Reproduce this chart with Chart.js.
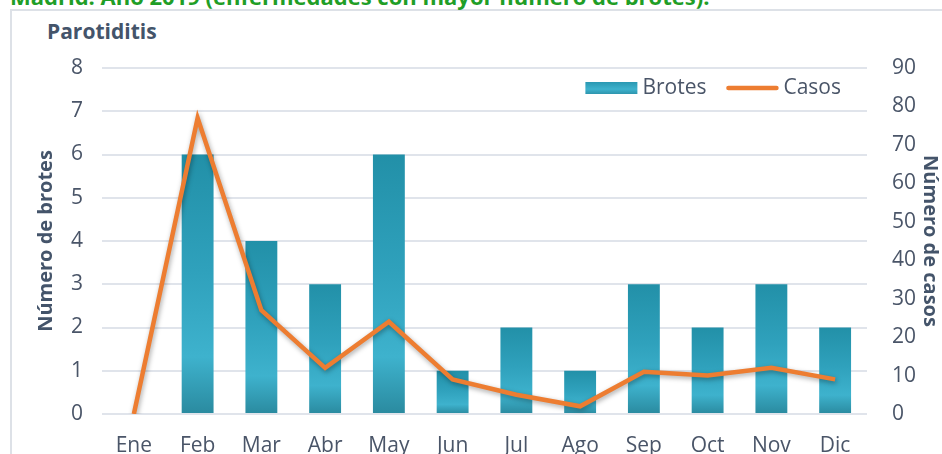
<!DOCTYPE html>
<html><head><meta charset="utf-8">
<script src="https://cdn.jsdelivr.net/npm/chart.js@4"></script>
<style>
html,body{margin:0;padding:0;background:#fff;overflow:hidden;width:942px;height:454px;}
#frame{position:absolute;left:10px;top:9px;width:1000px;height:1000px;border:2px solid #dde1e7;box-sizing:border-box;}
#top{position:absolute;left:10px;top:-15px;font:bold 22px/22px 'Open Sans';color:#1f9e27;white-space:nowrap;}
#sub{position:absolute;left:47px;top:21px;font:bold 21px/21px 'Open Sans';color:#44546a;white-space:nowrap;}
#wrap{position:absolute;left:0;top:0;width:942px;height:454px;}
</style></head>
<body>
<div id="frame"></div>
<div id="top">Madrid. Año 2019 (enfermedades con mayor número de brotes).</div>
<div id="sub">Parotiditis</div>
<div id="wrap"><canvas id="c" width="942" height="454"></canvas></div>
<script>
const categories = ['Ene','Feb','Mar','Abr','May','Jun','Jul','Ago','Sep','Oct','Nov','Dic'];
const brotes = [0,6,4,3,6,1,2,1,3,2,3,2];
const casos = [0,77,27,12,24,9,5,2,11,10,12,9];
const leftTicks = [0,1,2,3,4,5,6,7,8];
const rightTicks = [0,10,20,30,40,50,60,70,80,90];

const txt = '#4a5568';
const ttl = '#44546a';
const FONT = "'Open Sans'";
const BAR_SOLID = '#35a7c3';
const LINE_COLOR = '#ed7d31';

function barFill(c){
  const chart = c.chart;
  const ys = chart.scales && chart.scales.y;
  const v = brotes[c.dataIndex];
  if (!ys || !chart.chartArea || c.type !== 'data' || !v) return BAR_SOLID;
  const top = ys.getPixelForValue(v), base = ys.getPixelForValue(0);
  if (!isFinite(top) || !isFinite(base) || base - top < 1) return BAR_SOLID;
  const g = chart.ctx.createLinearGradient(0, top, 0, base);
  g.addColorStop(0, '#2290a8');
  g.addColorStop(0.45, '#2fa1bc');
  g.addColorStop(0.78, '#3eb2cd');
  g.addColorStop(1, '#2a8a9f');
  return g;
}

const shadowPlugin = {
  id: 'lineShadow',
  beforeDatasetDraw(chart, args){
    if (args.meta.type === 'line'){
      const ctx = chart.ctx; ctx.save();
      ctx.shadowColor = 'rgba(0,0,0,0.35)'; ctx.shadowBlur = 5; ctx.shadowOffsetX = 1; ctx.shadowOffsetY = 2;
    }
  },
  afterDatasetDraw(chart, args){
    if (args.meta.type === 'line') chart.ctx.restore();
  }
};

// legend drawn inside the plot area, top-right
const innerLegend = {
  id: 'innerLegend',
  afterDatasetsDraw(chart){
    const ctx = chart.ctx, area = chart.chartArea;
    const ds = chart.data.datasets;
    const barDs = ds.find(d => d.type === 'bar'), lineDs = ds.find(d => d.type === 'line');
    const items = [
      { label: barDs.label, kind: 'bar' },
      { label: lineDs.label, kind: 'line' }
    ];
    ctx.save();
    ctx.font = "21px " + FONT;
    ctx.textBaseline = 'middle';
    const sw = 52, gapText = 5, gapItem = 20;
    const cy = area.top + 20;
    let x = area.right - 26;
    for (let i = items.length - 1; i >= 0; i--){
      const it = items[i];
      const w = ctx.measureText(it.label).width;
      const tx = x - w;
      ctx.fillStyle = txt; ctx.textAlign = 'left';
      ctx.fillText(it.label, tx, cy);
      const sx = tx - gapText - sw;
      if (it.kind === 'bar'){
        const g = ctx.createLinearGradient(0, cy - 6, 0, cy + 6);
        g.addColorStop(0, '#2a98b2'); g.addColorStop(0.6, '#3eb2cd'); g.addColorStop(1, '#2d95ae');
        ctx.fillStyle = g;
        ctx.fillRect(sx, cy - 6, sw, 12);
      } else {
        ctx.strokeStyle = LINE_COLOR; ctx.lineWidth = 4.5; ctx.lineCap = 'round';
        ctx.beginPath(); ctx.moveTo(sx + 2, cy); ctx.lineTo(sx + sw - 2, cy); ctx.stroke();
      }
      x = sx - gapItem;
    }
    ctx.restore();
  }
};

new Chart(document.getElementById('c'), {
  data: {
    labels: categories,
    datasets: [
      { type: 'line', label: 'Casos', data: casos, yAxisID: 'y1', borderColor: LINE_COLOR, backgroundColor: LINE_COLOR,
        borderWidth: 4.5, pointRadius: 0, tension: 0, order: 0 },
      { type: 'bar', label: 'Brotes', data: brotes, yAxisID: 'y', backgroundColor: barFill, borderWidth: 0,
        barPercentage: 0.5, categoryPercentage: 1, order: 1 }
    ]
  },
  options: {
    responsive: false, animation: false, devicePixelRatio: 1,
    layout: { padding: { left: 26, right: 0, top: 68, bottom: 0 } },
    plugins: {
      title: { display: false },
      tooltip: { enabled: false },
      legend: { display: false }
    },
    scales: {
      x: {
        grid: { display: false }, border: { display: false },
        ticks: { font: { family: FONT, size: 21 }, color: txt, padding: 11, maxRotation: 0 },
        afterFit(s){ s.height = 40; }
      },
      y: {
        position: 'left', min: leftTicks[0], max: leftTicks[leftTicks.length-1],
        afterBuildTicks(s){ s.ticks = leftTicks.map(v => ({ value: v })); },
        grid: { color: '#e0e4eb', lineWidth: 2, drawTicks: false }, border: { display: false },
        ticks: { font: { family: FONT, size: 21 }, color: txt, padding: 19 },
        title: { display: true, text: 'Número de brotes', font: { family: FONT, size: 20, weight: 'bold' }, color: ttl, padding: { top: 8, bottom: 0 } },
        afterFit(s){ s.width = 76; }
      },
      y1: {
        position: 'right', min: rightTicks[0], max: rightTicks[rightTicks.length-1],
        afterBuildTicks(s){ s.ticks = rightTicks.map(v => ({ value: v })); },
        grid: { display: false }, border: { display: false },
        ticks: { font: { family: FONT, size: 21 }, color: txt, padding: 17 },
        title: { display: true, text: 'Número de casos', font: { family: FONT, size: 20, weight: 'bold' }, color: ttl, padding: { top: 0, bottom: 0 } },
        afterFit(s){ s.width = 75; }
      }
    }
  },
  plugins: [shadowPlugin, innerLegend]
});
</script>
</body></html>
